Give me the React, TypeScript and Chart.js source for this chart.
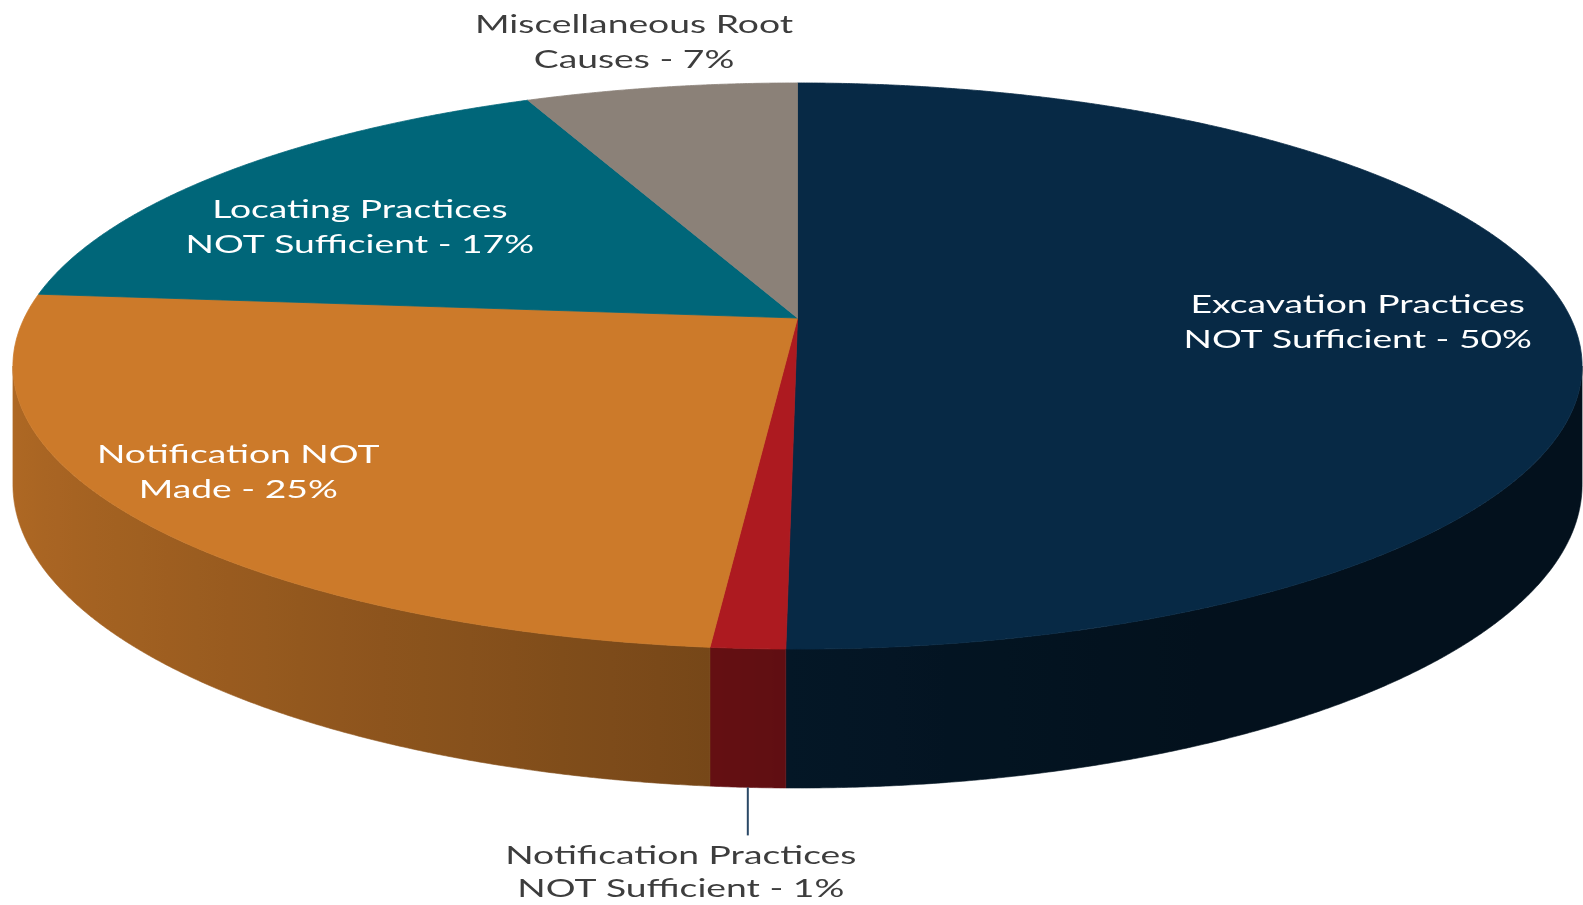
import React, { useEffect, useRef } from "react";
import { Chart, registerables } from "chart.js";

Chart.register(...registerables);

// ---------- data ----------
const categories = [
  "Excavation Practices NOT Sufficient",
  "Notification Practices NOT Sufficient",
  "Notification NOT Made",
  "Locating Practices NOT Sufficient",
  "Miscellaneous Root Causes",
];
const shares = [50.2, 1.3, 24.9, 17.0, 6.6];
const percentLabels = ["50%", "1%", "25%", "17%", "7%"];
const labelHeads = [
  "Excavation Practices",
  "Notification Practices",
  "Notification NOT",
  "Locating Practices",
  "Miscellaneous Root",
];
const labelTails = ["NOT Sufficient", "NOT Sufficient", "Made", "NOT Sufficient", "Causes"];

// ---------- styles ----------
const topColors = ["#072945", "#ad1a20", "#cc7a2a", "#006679", "#8b8178"];
const FONT = "25px Lato";
const TEXT_STRETCH = 1.49;
const LINE_GAP = 35;
const INSIDE_TEXT = "#ffffff";
const OUTSIDE_TEXT = "#3d3d3d";
const LEADER_COLOR = "#2a4866";

// perspective projection of the pie disc (layout)
const GEO = { kR: 773.2, mR: 274.9, q: 0.1696, h: 115.4 };

// label placement: radial fraction along the slice's mid angle plus nudges
const labelPlacement = [
  { mode: "inside", r: 0.724, dx: 0, dy: 2 },
  { mode: "leader", len: 48, dx: -67, gap: 29, lineGap: 33 },
  { mode: "inside", r: 0.854, dx: 0, dy: -12 },
  { mode: "inside", r: 0.748, dx: 0, dy: 20 },
  { mode: "outside", r: 1.238, dx: 0, dy: 0 },
];

function hexToRgb(hex: string) {
  const v = parseInt(hex.slice(1), 16);
  return [(v >> 16) & 255, (v >> 8) & 255, v & 255];
}

function shade(hex: string, f: number) {
  const [r, g, b] = hexToRgb(hex);
  return `rgb(${Math.round(r * f)},${Math.round(g * f)},${Math.round(b * f)})`;
}

function proj(cx: number, cy: number, theta: number, r: number) {
  const s = Math.sin(theta);
  const c = Math.cos(theta);
  const u = 1 + GEO.q * r * c;
  return { x: cx + (GEO.kR * r * s) / u, y: cy - (GEO.mR * r * c) / u, u };
}

function sideFactor(theta: number) {
  return Math.max(0.42, 0.55 + 0.31 * -Math.sin(theta));
}

function drawStretched(ctx: CanvasRenderingContext2D, text: string, x: number, y: number) {
  ctx.save();
  ctx.translate(x, y);
  ctx.scale(TEXT_STRETCH, 1);
  ctx.fillText(text, 0, 0);
  ctx.restore();
}

const pie3d = {
  id: "pie3d",
  beforeDatasetsDraw(chart: any) {
    const ctx: CanvasRenderingContext2D = chart.ctx;
    const meta = chart.getDatasetMeta(0);
    const arcs = meta.data;
    if (!arcs.length) return false;
    const cx = arcs[0].x;
    const cy = arcs[0].y;
    const sil1 = Math.acos(-GEO.q);
    const sil2 = 2 * Math.PI - sil1;

    ctx.save();
    // side walls: one path per slice, shaded with a horizontal gradient
    arcs.forEach((arc: any, i: number) => {
      const ts = arc.startAngle + Math.PI / 2;
      const te = arc.endAngle + Math.PI / 2;
      const a = Math.max(ts, sil1);
      const b = Math.min(te, sil2);
      if (a >= b) return;
      const color = topColors[i];
      const n = Math.max(2, Math.ceil((b - a) / 0.004));
      const pts = [] as { x: number; y: number; u: number; t: number }[];
      for (let k = 0; k <= n; k++) {
        const t = a + ((b - a) * k) / n;
        const p = proj(cx, cy, t, 1);
        pts.push({ ...p, t });
      }
      const xa = pts[0].x;
      const xb = pts[pts.length - 1].x;
      const grad = ctx.createLinearGradient(xa, 0, xb, 0);
      const span = xb - xa;
      const stops = 24;
      for (let k = 0; k <= stops; k++) {
        const idx = Math.round((k / stops) * (pts.length - 1));
        const p = pts[idx];
        let pos = span !== 0 ? (p.x - xa) / span : 0;
        pos = Math.min(1, Math.max(0, pos));
        grad.addColorStop(pos, shade(color, sideFactor(p.t)));
      }
      ctx.beginPath();
      ctx.moveTo(pts[0].x, pts[0].y);
      for (let k = 1; k < pts.length; k++) ctx.lineTo(pts[k].x, pts[k].y);
      for (let k = pts.length - 1; k >= 0; k--) ctx.lineTo(pts[k].x, pts[k].y + GEO.h / pts[k].u);
      ctx.closePath();
      ctx.fillStyle = grad;
      ctx.fill();
      ctx.strokeStyle = grad;
      ctx.lineWidth = 0.6;
      ctx.stroke();
    });
    // top faces
    arcs.forEach((arc: any, i: number) => {
      const ts = arc.startAngle + Math.PI / 2;
      const te = arc.endAngle + Math.PI / 2;
      const n = Math.max(2, Math.ceil((te - ts) / 0.004));
      ctx.beginPath();
      ctx.moveTo(cx, cy);
      for (let k = 0; k <= n; k++) {
        const p = proj(cx, cy, ts + ((te - ts) * k) / n, 1);
        ctx.lineTo(p.x, p.y);
      }
      ctx.closePath();
      ctx.fillStyle = topColors[i];
      ctx.fill();
      ctx.strokeStyle = topColors[i];
      ctx.lineJoin = "round";
      ctx.lineWidth = 0.8;
      ctx.stroke();
    });
    ctx.restore();
    return false;
  },
  afterDraw(chart: any) {
    const ctx: CanvasRenderingContext2D = chart.ctx;
    const meta = chart.getDatasetMeta(0);
    const arcs = meta.data;
    if (!arcs.length) return;
    const cx = arcs[0].x;
    const cy = arcs[0].y;
    ctx.save();
    ctx.font = FONT;
    ctx.textAlign = "center";
    ctx.textBaseline = "alphabetic";
    arcs.forEach((arc: any, i: number) => {
      const mid = (arc.startAngle + arc.endAngle) / 2 + Math.PI / 2;
      const pl: any = labelPlacement[i];
      const line1 = labelHeads[i];
      const line2 = `${labelTails[i]} - ${percentLabels[i]}`;
      if (pl.mode === "leader") {
        const p = proj(cx, cy, mid, 1);
        const yb = p.y + GEO.h / p.u;
        ctx.strokeStyle = LEADER_COLOR;
        ctx.lineWidth = 2;
        ctx.beginPath();
        ctx.moveTo(p.x, yb);
        ctx.lineTo(p.x, yb + pl.len);
        ctx.stroke();
        ctx.fillStyle = OUTSIDE_TEXT;
        const b1 = yb + pl.len + pl.gap;
        drawStretched(ctx, line1, p.x + pl.dx, b1);
        drawStretched(ctx, line2, p.x + pl.dx, b1 + pl.lineGap);
      } else {
        const p = proj(cx, cy, mid, pl.r);
        const x = p.x + pl.dx;
        const y = p.y + pl.dy;
        ctx.fillStyle = pl.mode === "inside" ? INSIDE_TEXT : OUTSIDE_TEXT;
        drawStretched(ctx, line1, x, y - LINE_GAP / 2 + 9);
        drawStretched(ctx, line2, x, y + LINE_GAP / 2 + 9);
      }
    });
    ctx.restore();
  },
};

export default function App() {
  const canvasRef = useRef<HTMLCanvasElement | null>(null);

  useEffect(() => {
    if (!canvasRef.current) return;
    const chart = new Chart(canvasRef.current, {
      type: "pie",
      data: {
        labels: categories,
        datasets: [
          {
            data: shares,
            backgroundColor: topColors,
            borderWidth: 0,
          },
        ],
      },
      options: {
        animation: false,
        responsive: true,
        maintainAspectRatio: false,
        events: [],
        layout: { padding: { left: 12, right: 0, top: 0, bottom: 269 } },
        plugins: {
          legend: { display: false },
          tooltip: { enabled: false },
        },
      },
      plugins: [pie3d as any],
    });
    return () => chart.destroy();
  }, []);

  return (
    <div
      style={{
        position: "absolute",
        left: 0,
        top: 0,
        width: "1583px",
        height: "905px",
        background: "#ffffff",
      }}
    >
      <canvas ref={canvasRef} />
    </div>
  );
}
